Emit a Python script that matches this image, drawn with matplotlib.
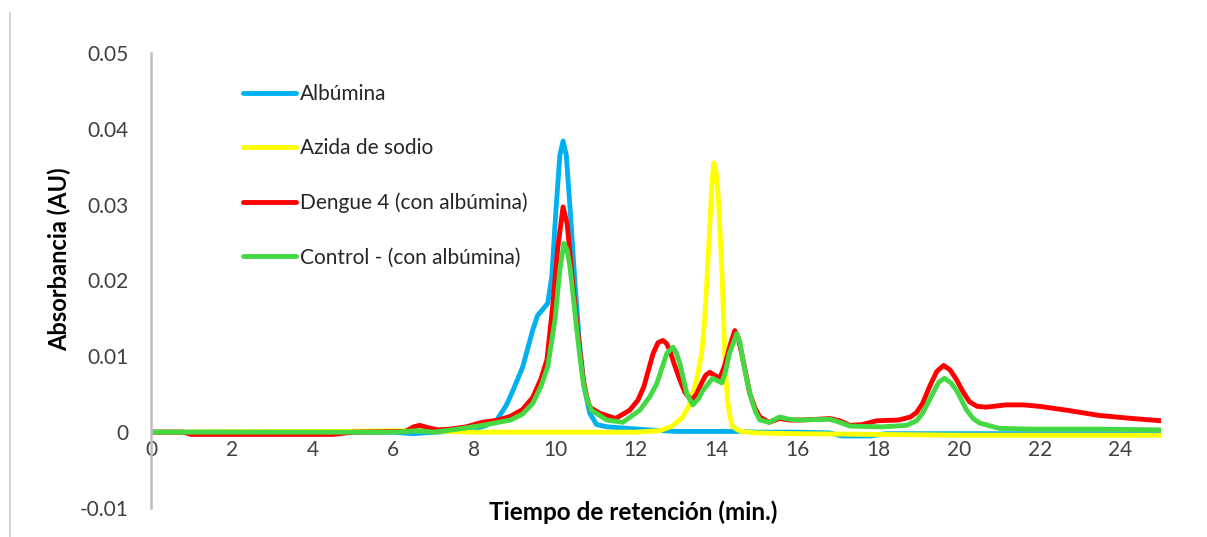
import matplotlib
matplotlib.use("Agg")
import matplotlib.pyplot as plt
from matplotlib.lines import Line2D

plt.rcParams['font.family'] = ['Lato', 'DejaVu Sans']

# ---- data ----
labels = ["Albúmina", "Azida de sodio", "Dengue 4 (con albúmina)", "Control - (con albúmina)"]
colors = ["#00B0F0", "#FFFF00", "#FF0000", "#44D944"]

alb_x = [0, 2, 4, 6, 6.5, 7, 7.5, 8.0, 8.3, 8.56, 8.8, 8.96, 9.2, 9.45, 9.57, 9.7, 9.82, 9.92,
         10.02, 10.12, 10.2, 10.28, 10.38, 10.49, 10.6, 10.72, 10.86, 11.03, 11.3, 11.8, 12.3,
         13, 14, 14.6, 15, 16, 16.8, 17.1, 17.8, 18.2, 20, 23.5, 25]
alb_y = [0, 0, 0, 0, -0.0002, 0, 0.0001, 0.0004, 0.0009, 0.0016, 0.0036, 0.0055, 0.0086, 0.0135,
         0.0154, 0.0162, 0.0170, 0.0205, 0.0290, 0.0365, 0.0384, 0.0365, 0.0290, 0.0200, 0.0120,
         0.0060, 0.0025, 0.0010, 0.0007, 0.0005, 0.0003, 0.0001, 0.0001, 0.0001, 0.0, 0.0,
         -0.0001, -0.0005, -0.0005, -0.0002, -0.0002, -0.0002, -0.0003]

azi_x = [0, 4.5, 6.5, 8, 10, 12, 12.6, 12.9, 13.16, 13.3, 13.41, 13.53, 13.63, 13.7, 13.75, 13.82,
         13.88, 13.93, 13.98, 14.03, 14.08, 14.13, 14.17, 14.2, 14.24, 14.28, 14.34, 14.4, 14.6,
         15, 16, 18, 20, 22, 25]
azi_y = [0.0, 0.0001, 0.0002, 0.0, 0.0, 0.0, 0.0002, 0.0008, 0.0020, 0.0033, 0.0051, 0.0075,
         0.0104, 0.0145, 0.0190, 0.0260, 0.0323, 0.0355, 0.0345, 0.0320, 0.0270, 0.0214, 0.0155,
         0.0104, 0.0065, 0.0038, 0.0018, 0.0007, 0.0001, -0.0001, -0.0002, -0.0003, -0.0004,
         -0.0004, -0.0004]

den_x = [0, 0.8, 1, 4.5, 5, 6.3, 6.5, 6.65, 6.85, 7.1, 7.4, 7.8, 8.2, 8.6, 8.9, 9.2, 9.45, 9.65,
         9.8, 9.95, 10.07, 10.2, 10.3, 10.37, 10.45, 10.53, 10.62, 10.7, 10.78, 10.86, 11.1, 11.5,
         11.85, 12.05, 12.2, 12.33, 12.43, 12.55, 12.67, 12.76, 12.84, 12.95, 13.09, 13.22, 13.38,
         13.5, 13.63, 13.73, 13.83, 13.95, 14.08, 14.2, 14.32, 14.45, 14.53, 14.62, 14.72, 14.82,
         14.95, 15.07, 15.3, 15.56, 15.8, 16.06, 16.5, 16.8, 17.05, 17.3, 17.6, 17.96, 18.5, 18.8,
         18.95, 19.1, 19.27, 19.45, 19.62, 19.78, 19.94, 20.1, 20.26, 20.45, 20.68, 21.17, 21.6,
         22.0, 22.66, 23.48, 24.3, 25.0]
den_y = [0.0, 0.0, -0.0003, -0.0003, 0.0, 0.0001, 0.0007, 0.0009, 0.0006, 0.0003, 0.0004, 0.0007,
         0.0013, 0.0016, 0.0021, 0.0030, 0.0046, 0.0070, 0.0095, 0.0170, 0.0244, 0.0297, 0.0275,
         0.0236, 0.0190, 0.0148, 0.0105, 0.0069, 0.0048, 0.0033, 0.0025, 0.0018, 0.0029, 0.0042,
         0.0060, 0.0085, 0.0104, 0.0118, 0.0121, 0.0117, 0.0108, 0.0090, 0.0069, 0.0052, 0.0042,
         0.0050, 0.0065, 0.0075, 0.0079, 0.0075, 0.0071, 0.0088, 0.0112, 0.0134, 0.0125, 0.0104,
         0.0078, 0.0051, 0.0032, 0.0020, 0.0013, 0.0018, 0.0016, 0.0016, 0.0017, 0.0018, 0.0015,
         0.0009, 0.0010, 0.0015, 0.0016, 0.0020, 0.0026, 0.0038, 0.0060, 0.0080, 0.0088, 0.0082,
         0.0069, 0.0053, 0.0040, 0.0034, 0.0033, 0.0036, 0.0036, 0.0034, 0.0029, 0.0022, 0.0018,
         0.0015]

con_x = [0, 2, 4, 6, 6.6, 7, 7.6, 8.2, 8.9, 9.2, 9.45, 9.65, 9.82, 10.0, 10.12, 10.22, 10.3,
         10.37, 10.45, 10.53, 10.62, 10.7, 10.8, 10.9, 11.28, 11.68, 12.1, 12.35, 12.52, 12.65,
         12.77, 12.92, 13.0, 13.09, 13.18, 13.26, 13.41, 13.55, 13.66, 13.9, 14.13, 14.22, 14.32,
         14.5, 14.58, 14.65, 14.75, 14.87, 14.97, 15.07, 15.3, 15.56, 15.8, 16.06, 16.8, 17.05,
         17.3, 18.1, 18.7, 18.95, 19.1, 19.35, 19.5, 19.64, 19.8, 19.94, 20.19, 20.35, 20.51,
         21.0, 21.8, 23.48, 25.0]
con_y = [0.0, 0.0, 0.0, 0.0, 0.0002, 0.0, 0.0004, 0.0009, 0.0016, 0.0024, 0.0038, 0.0060, 0.0086,
         0.0148, 0.0214, 0.0249, 0.0240, 0.0218, 0.0180, 0.0139, 0.0098, 0.0065, 0.0042, 0.0029,
         0.0016, 0.0013, 0.0029, 0.0047, 0.0064, 0.0085, 0.0104, 0.0112, 0.0105, 0.0091, 0.0070,
         0.0051, 0.0036, 0.0044, 0.0055, 0.0071, 0.0065, 0.0080, 0.0104, 0.0130, 0.0118, 0.0095,
         0.0068, 0.0042, 0.0026, 0.0016, 0.0013, 0.0020, 0.0017, 0.0016, 0.0017, 0.0013, 0.0008,
         0.0007, 0.0009, 0.0015, 0.0025, 0.0051, 0.0066, 0.0071, 0.0065, 0.0055, 0.0029, 0.0018,
         0.0012, 0.0005, 0.0004, 0.0004, 0.0003]

xticks = [0, 2, 4, 6, 8, 10, 12, 14, 16, 18, 20, 22, 24]
yticks = [-0.01, 0, 0.01, 0.02, 0.03, 0.04, 0.05]
ytick_labels = ["-0.01", "0", "0.01", "0.02", "0.03", "0.04", "0.05"]

# ---- figure ----
W, H = 1207, 537
fig = plt.figure(figsize=(W / 100, H / 100), dpi=100)
ax = fig.add_axes([151 / W, 1 - 508 / H, (1161 - 151) / W, (508 - 53) / H])

series = [(alb_x, alb_y), (azi_x, azi_y), (den_x, den_y), (con_x, con_y)]
for (xs, ys), c, lab in zip(series, colors, labels):
    ax.plot(xs, ys, color=c, lw=3.5, label=lab, solid_joinstyle='round', solid_capstyle='round')

ax.set_xlim(0, 25)
ax.set_ylim(-0.01, 0.05)
ax.set_xticks(xticks)
ax.set_xticklabels([str(t) for t in xticks])
ax.set_yticks(yticks)
ax.set_yticklabels(ytick_labels)

for s in ['top', 'right']:
    ax.spines[s].set_visible(False)
ax.spines['bottom'].set_position(('data', 0))
ax.spines['bottom'].set_color('#D9D9D9')
ax.spines['bottom'].set_zorder(0)
ax.spines['left'].set_color('#BFBFBF')
ax.spines['left'].set_linewidth(1.8)

ax.tick_params(axis='x', length=0, pad=6, labelsize=15, colors='#404040')
ax.tick_params(axis='y', length=0, pad=16, labelsize=15, colors='#404040')

ax.set_xlabel("Tiempo de retención (min.)", fontsize=17.5, fontweight='bold', color='black')
ax.xaxis.set_label_coords(0.477, (508 - 512) / (508 - 53), transform=ax.transAxes)
ax.xaxis.label.set_verticalalignment('center')
ax.set_ylabel("Absorbancia (AU)", fontsize=17, fontweight='bold', color='black')
ax.yaxis.set_label_coords((71 - 151) / (1161 - 151), 1 - (259 - 53) / (508 - 53))

leg = ax.legend(loc='upper left', bbox_to_anchor=(243 / W, 1 - 84 / H),
                bbox_transform=fig.transFigure, frameon=False, fontsize=15,
                handlelength=2.55, handletextpad=0.2, labelspacing=1.65,
                borderpad=0, borderaxespad=0)
for t in leg.get_texts():
    t.set_color('#262626')

fig.add_artist(Line2D([10 / W, 10 / W], [0, 1 - 13 / H], color='#CCCCCC', lw=1.2,
                      transform=fig.transFigure))

fig.savefig("out.png", dpi=100)
